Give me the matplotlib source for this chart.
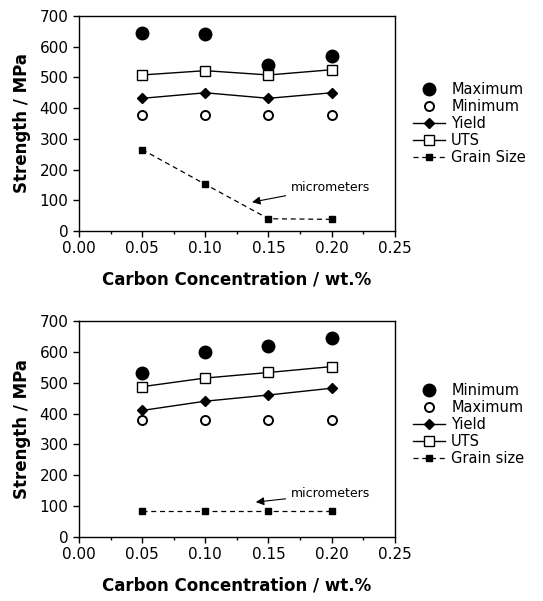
import matplotlib
matplotlib.use("Agg")
import matplotlib.pyplot as plt
from matplotlib.ticker import MultipleLocator

carbon = [0.05, 0.10, 0.15, 0.20]

# Top chart
top_max = [645, 640, 540, 570]
top_min = [378, 378, 378, 378]
top_yield = [432, 450, 432, 450]
top_uts = [508, 522, 508, 525]
top_grain = [265, 152, 40, 38]
top_labels = ["Maximum", "Minimum", "Yield", "UTS", "Grain Size"]

# Bottom chart
bot_filled = [530, 600, 620, 645]
bot_open = [378, 378, 378, 378]
bot_yield = [410, 440, 460, 482]
bot_uts = [487, 515, 533, 552]
bot_grain = [85, 85, 85, 85]
bot_labels = ["Minimum", "Maximum", "Yield", "UTS", "Grain size"]

xticks = [0.00, 0.05, 0.10, 0.15, 0.20, 0.25]
yticks = [0, 100, 200, 300, 400, 500, 600, 700]

plt.rcParams['font.family'] = ['DejaVu Sans']

fig = plt.figure(figsize=(5.43, 6.01), dpi=100)
ax1 = fig.add_axes([0.1455, 0.6156, 0.5815, 0.3578])
ax2 = fig.add_axes([0.1455, 0.1065, 0.5815, 0.3595])


def draw(ax, filled, opn, yld, uts, grain, labels, ann_text_xy, ann_xy, legend_y):
    h1, = ax.plot(carbon, filled, 'o', color='black', markersize=9, linestyle='none')
    h2, = ax.plot(carbon, opn, 'o', markerfacecolor='white', markeredgecolor='black',
                  markeredgewidth=1.4, markersize=6.5, linestyle='none')
    h3, = ax.plot(carbon, yld, '-', color='black', lw=1.0, marker='D', markersize=5)
    h4, = ax.plot(carbon, uts, '-', color='black', lw=1.0, marker='s', markersize=6.5,
                  markerfacecolor='white', markeredgewidth=1.0)
    h5, = ax.plot(carbon, grain, '--', color='black', lw=0.9, dashes=(4, 3),
                  marker='s', markersize=4.5)
    ax.set_xlim(0, 0.25)
    ax.set_ylim(0, 700)
    ax.set_xticks(xticks)
    ax.set_xticklabels([f"{v:.2f}" for v in xticks])
    ax.set_yticks(yticks)
    ax.set_yticklabels([str(v) for v in yticks])
    ax.xaxis.set_minor_locator(MultipleLocator(0.025))
    ax.tick_params(axis='both', which='major', direction='out', length=4, width=1,
                   labelsize=11, colors='black')
    ax.tick_params(axis='x', which='minor', direction='out', length=2.5, width=1)
    for s in ax.spines.values():
        s.set_linewidth(1.0)
    ax.set_xlabel("Carbon Concentration / wt.%", fontsize=12, fontweight='bold', labelpad=10)
    ax.set_ylabel("Strength / MPa", fontsize=12, fontweight='bold', labelpad=6)
    ax.annotate("micrometers", xy=ann_xy, xytext=ann_text_xy, fontsize=9,
                va='center', ha='left',
                arrowprops=dict(arrowstyle='-|>', color='black', lw=0.8,
                                mutation_scale=12, shrinkA=2, shrinkB=0))
    fig.legend([h1, h2, h3, h4, h5], labels, loc='upper left',
               bbox_to_anchor=(0.749, legend_y), frameon=False, fontsize=10.5,
               handlelength=2.2, handletextpad=0.45, labelspacing=0.14,
               borderaxespad=0)


draw(ax1, top_max, top_min, top_yield, top_uts, top_grain, top_labels,
     (0.168, 143), (0.137, 94), 0.873)
draw(ax2, bot_filled, bot_open, bot_yield, bot_uts, bot_grain, bot_labels,
     (0.168, 140), (0.140, 113), 0.372)

fig.savefig("out.png", dpi=100)
